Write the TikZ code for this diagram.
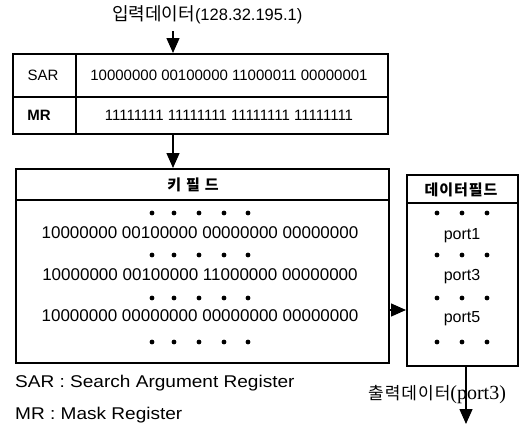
\documentclass[tikz,border=0pt]{standalone}
\usepackage{fontspec}
\setmainfont{Liberation Sans}
\newfontfamily\kr{Noto Sans CJK KR}
\newfontfamily\lsans{Liberation Sans}
\newfontfamily\outserif{Liberation Serif}
\newfontfamily\legfont[FakeStretch=1.12]{Liberation Sans}
\usetikzlibrary{arrows.meta}

\tikzset{
  box/.style={draw, line width=1.6pt, inner sep=0pt, anchor=north west},
  rule/.style={line width=1.6pt},
  arr/.style={line width=1.3pt, -{Triangle[length=15pt,width=13pt]}},
  dot/.style={circle, fill, inner sep=0pt, minimum size=4.8pt},
  regtxt/.style={font=\lsans\fontsize{15}{18}\selectfont},
  keytxt/.style={font=\lsans\fontsize{17}{20}\selectfont},
  porttxt/.style={font=\lsans\fontsize{16}{19}\selectfont},
  hdtxt/.style={font=\kr\bfseries\fontsize{15}{18}\selectfont},
  legtxt/.style={font=\legfont\fontsize{17}{20}\selectfont, anchor=west, inner sep=0pt},
}

\begin{document}
\begin{tikzpicture}[x=1pt,y=-1pt]
  \useasboundingbox (0,0) rectangle (528,429);

  % input data
  \node[anchor=west, inner sep=0pt] (input) at (112,15)
    {{\kr\fontsize{18}{20}\selectfont 입력데이터}{\lsans\fontsize{16.5}{19}\selectfont(128.32.195.1)}};
  \coordinate (inbot) at (173,31);

  % === registers SAR / MR ===
  \node[box, minimum width=375, minimum height=80] (reg) at (12,53) {};
  \draw[rule] (12,97) -- (387,97);
  \draw[rule] (76,53) -- (76,133);
  \node[regtxt] (sar)  at (43,75)  {SAR};
  \node[font=\lsans\bfseries\fontsize{15}{18}\selectfont] (mr) at (39,115) {MR};
  \node[regtxt] (sarv) at (229,75)  {10000000 00100000 11000011 00000001};
  \node[regtxt] (mrv)  at (229,115) {11111111 11111111 11111111 11111111};

  % === key field ===
  \node[box, minimum width=373, minimum height=194] (key) at (15,168) {};
  \draw[rule] (15,200) -- (388,200);
  \node[hdtxt] (keyhd) at (193,185) {키\kern5pt 필\kern5pt 드};
  \node[keytxt] (k1) at (200,233) {10000000 00100000 00000000 00000000};
  \node[keytxt] (k2) at (200,275) {10000000 00100000 11000000 00000000};
  \node[keytxt] (k3) at (200,316) {10000000 00000000 00000000 00000000};

  % === data field ===
  \node[box, minimum width=111, minimum height=191] (data) at (406,174) {};
  \draw[rule] (406,203) -- (517,203);
  \node[hdtxt] (datahd) at (461,190) {데\kern1pt 이\kern1pt 터\kern1pt 필\kern1pt 드};
  \node[porttxt] (p1) at (462,236) {port1};
  \node[porttxt] (p3) at (462,277) {port3};
  \node[porttxt] (p5) at (462,319) {port5};

  % dotted rows (drawn as filled dots)
  \foreach \y in {213,255,298,342} {
    \foreach \x in {152,174,199,224,248}
      \node[dot] at (\x,\y) {};
    \foreach \x in {437,462,487}
      \node[dot] at (\x,\y) {};
  }

  % === connectors ===
  \draw[arr] (inbot) -- (inbot |- reg.north);
  \draw[arr] (reg.south -| inbot) -- (key.north -| inbot);
  \coordinate (hit) at (388,310);
  \draw[arr] (hit) -- (hit -| data.west);
  \coordinate (outtop) at (466,365);
  \coordinate (out) at (466,424);
  \draw[arr] (outtop) -- (out);
  \node[anchor=west, inner sep=0pt] (outlbl) at (368,395)
    {{\kr\fontsize{17}{19}\selectfont 출\kern1pt 력\kern1pt 데\kern1pt 이\kern1pt 터}{\outserif\fontsize{20}{23}\selectfont(port3)}};

  % legend
  \node[legtxt] (leg1) at (15,383) {SAR : Search Argument Register};
  \node[legtxt] (leg2) at (15,415) {MR : Mask Register};
\end{tikzpicture}
\end{document}
